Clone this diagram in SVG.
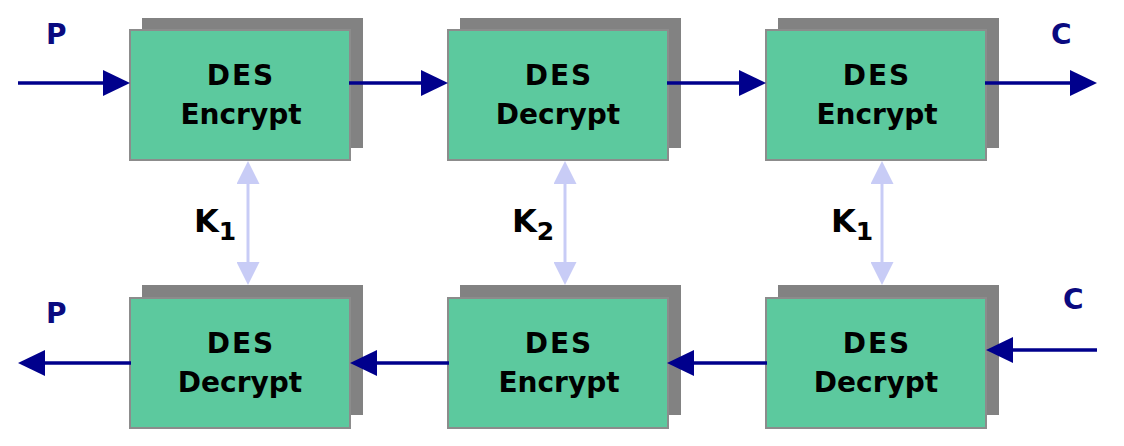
<svg xmlns="http://www.w3.org/2000/svg" width="1124" height="446" viewBox="0 0 1124 446">
<style>
.shadow{fill:#828282}
.box{fill:#5cc99e;stroke:#8c8c8c;stroke-width:2}
.t{font-family:"DejaVu Sans",sans-serif;font-weight:bold;font-size:28px;fill:#000;text-anchor:middle}
.lbl{font-family:"DejaVu Sans",sans-serif;font-weight:bold;font-size:28px;fill:#0a0a80}
.k{font-family:"DejaVu Sans",sans-serif;font-weight:bold;font-size:32px;fill:#000}
.sub{font-size:25px}
.flow{stroke:#00008c;stroke-width:3.5;fill:none;marker-end:url(#ah)}
.key{stroke:#c8ccf6;stroke-width:3;fill:none;marker-start:url(#kh);marker-end:url(#kh)}
</style>
<defs>
<marker id="ah" markerUnits="userSpaceOnUse" markerWidth="27" markerHeight="27" refX="0" refY="13" orient="auto" viewBox="0 0 27 26">
<path d="M0,0 L27,13 L0,26 z" fill="#00008c"/>
</marker>
<marker id="kh" markerUnits="userSpaceOnUse" markerWidth="23" markerHeight="23" refX="0" refY="11.5" orient="auto-start-reverse" viewBox="0 0 23 23">
<path d="M0,0 L23,11.5 L0,23 z" fill="#c8ccf6"/>
</marker>
</defs>
<g id="enc1">
<rect class="shadow" x="142" y="18" width="221" height="130"/>
<rect class="box" x="130" y="30" width="220" height="130"/>
<text class="t" x="241" y="85" letter-spacing="2">DES</text>
<text class="t" x="241" y="124">Encrypt</text>
</g>
<g id="dec2">
<rect class="shadow" x="460" y="18" width="221" height="130"/>
<rect class="box" x="448" y="30" width="220" height="130"/>
<text class="t" x="559" y="85" letter-spacing="2">DES</text>
<text class="t" x="558" y="124">Decrypt</text>
</g>
<g id="enc3">
<rect class="shadow" x="778" y="18" width="221" height="130"/>
<rect class="box" x="766" y="30" width="220" height="130"/>
<text class="t" x="877" y="85" letter-spacing="2">DES</text>
<text class="t" x="877" y="124">Encrypt</text>
</g>
<g id="dec1">
<rect class="shadow" x="142" y="285" width="221" height="130"/>
<rect class="box" x="130" y="298" width="220" height="130"/>
<text class="t" x="241" y="353" letter-spacing="2">DES</text>
<text class="t" x="240" y="392">Decrypt</text>
</g>
<g id="enc2">
<rect class="shadow" x="460" y="285" width="221" height="130"/>
<rect class="box" x="448" y="298" width="220" height="130"/>
<text class="t" x="559" y="353" letter-spacing="2">DES</text>
<text class="t" x="559" y="392">Encrypt</text>
</g>
<g id="dec3">
<rect class="shadow" x="778" y="285" width="221" height="130"/>
<rect class="box" x="766" y="298" width="220" height="130"/>
<text class="t" x="877" y="353" letter-spacing="2">DES</text>
<text class="t" x="876" y="392">Decrypt</text>
</g>
<g id="connectors">
<line class="flow" x1="18" y1="83" x2="103" y2="83"/>
<line class="flow" x1="349" y1="83" x2="421" y2="83"/>
<line class="flow" x1="667" y1="83" x2="739" y2="83"/>
<line class="flow" x1="985" y1="83" x2="1070" y2="83"/>
<line class="flow" x1="1097" y1="350" x2="1013" y2="350"/>
<line class="flow" x1="767" y1="363" x2="694" y2="363"/>
<line class="flow" x1="449" y1="363" x2="377" y2="363"/>
<line class="flow" x1="131" y1="363" x2="45" y2="363"/>
<line class="key" x1="248" y1="184" x2="248" y2="262"/>
<line class="key" x1="565" y1="184" x2="565" y2="262"/>
<line class="key" x1="882" y1="184" x2="882" y2="262"/>
</g>
<g id="labels">
<text class="lbl" x="46" y="44">P</text>
<text class="lbl" x="1051" y="44">C</text>
<text class="lbl" x="46" y="323">P</text>
<text class="lbl" x="1063" y="309">C</text>
<text class="k" x="194" y="232">K<tspan class="sub" dy="8">1</tspan></text>
<text class="k" x="512" y="232">K<tspan class="sub" dy="8">2</tspan></text>
<text class="k" x="831" y="232">K<tspan class="sub" dy="8">1</tspan></text>
</g>
</svg>
